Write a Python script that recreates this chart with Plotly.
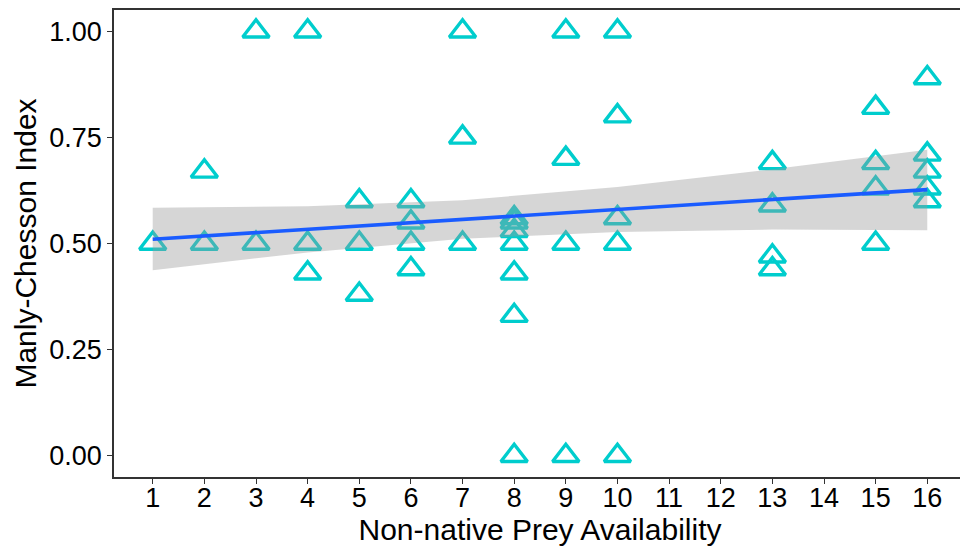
import plotly.graph_objects as go

# data
prey_x = [1,
          2, 2,
          3, 3,
          4, 4, 4,
          5, 5, 5,
          6, 6, 6, 6,
          7, 7, 7,
          8, 8, 8, 8, 8, 8, 8,
          9, 9, 9, 9,
          10, 10, 10, 10, 10,
          13, 13, 13, 13,
          15, 15, 15, 15,
          16, 16, 16, 16, 16]
index_y = [0.50,
           0.67, 0.50,
           1.00, 0.50,
           1.00, 0.50, 0.43,
           0.60, 0.50, 0.38,
           0.60, 0.55, 0.50, 0.44,
           1.00, 0.75, 0.50,
           0.56, 0.55, 0.53, 0.50, 0.43, 0.33, 0.00,
           1.00, 0.70, 0.50, 0.00,
           1.00, 0.80, 0.56, 0.50, 0.00,
           0.69, 0.59, 0.47, 0.44,
           0.82, 0.69, 0.63, 0.50,
           0.89, 0.71, 0.67, 0.63, 0.60]

# fitted trend line and its 95% confidence band
fit_x = [1, 16]
fit_y = [0.510, 0.627]
band_x = [1, 4, 7, 10, 13, 16]
band_hi = [0.584, 0.588, 0.602, 0.633, 0.675, 0.721]
band_lo = [0.437, 0.479, 0.511, 0.527, 0.533, 0.531]

x_ticks = list(range(1, 17))
y_ticks = [0.0, 0.25, 0.5, 0.75, 1.0]
y_tick_labels = ["0.00", "0.25", "0.50", "0.75", "1.00"]

fig = go.Figure()
fig.add_trace(go.Scatter(
    x=prey_x, y=index_y, mode="markers",
    marker=dict(symbol="triangle-up-open", size=23, color="#00CDCD",
                line=dict(width=3.4, color="#00CDCD")),
    showlegend=False, hoverinfo="x+y"))
fig.add_trace(go.Scatter(
    x=band_x + band_x[::-1], y=band_hi + band_lo[::-1],
    fill="toself", fillcolor="rgba(153,153,153,0.4)", line=dict(width=0),
    mode="lines", showlegend=False, hoverinfo="skip"))
fig.add_trace(go.Scatter(
    x=fit_x, y=fit_y, mode="lines", line=dict(color="#1A5CFF", width=3.6),
    showlegend=False, hoverinfo="skip"))

FONT = "Liberation Sans, Arial, sans-serif"
tick_font = dict(family=FONT, size=27, color="black")
title_font = dict(family=FONT, size=30, color="black")
# the page body adds an 8px margin, so the figure is sized 960x540
fig.update_layout(
    width=960, height=540,
    margin=dict(l=106, r=2, t=2, b=71),
    paper_bgcolor="white", plot_bgcolor="white",
    font=dict(family=FONT, color="black"),
    xaxis=dict(
        range=[0.25, 16.75], tickmode="array", tickvals=x_ticks,
        ticktext=[str(v) for v in x_ticks],
        ticks="outside", ticklen=5, tickwidth=1.3, tickcolor="#333333",
        ticklabelstandoff=-9,
        showline=True, linecolor="#333333", linewidth=1.6, mirror=True,
        showgrid=False, zeroline=False, tickfont=tick_font, automargin=False,
        title=dict(text="Non-native Prey Availability", font=title_font, standoff=6),
    ),
    yaxis=dict(
        range=[-0.05, 1.05], tickmode="array", tickvals=y_ticks,
        ticktext=y_tick_labels,
        ticks="outside", ticklen=5, tickwidth=1.3, tickcolor="#333333",
        showline=True, linecolor="#333333", linewidth=1.6, mirror=True,
        showgrid=False, zeroline=False, tickfont=tick_font, automargin=False,
        title=dict(text="Manly-Chesson Index", font=title_font, standoff=4),
    ),
)
fig.write_html("out.html")
